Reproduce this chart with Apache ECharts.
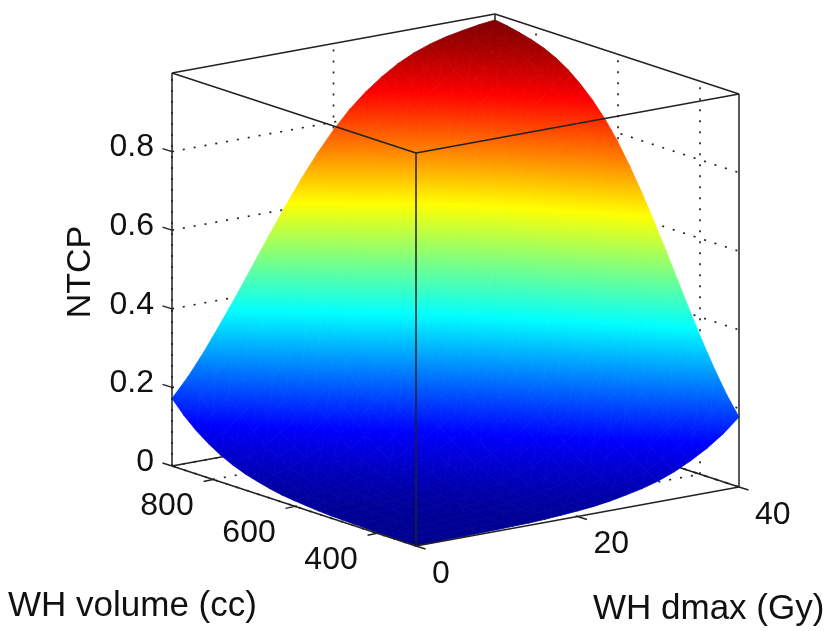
<!DOCTYPE html>
<html>
<head>
<meta charset="utf-8">
<title>NTCP surface</title>
<script src="https://cdn.jsdelivr.net/npm/echarts@6/dist/echarts.min.js"></script>
<style>
  html, body { margin: 0; padding: 0; background: #fff; }
  #chart { width: 827px; height: 631px; }
</style>
</head>
<body>
<div id="chart"></div>
<script>
const dmaxValues = [0, 2, 4, 6, 8, 10, 12, 14, 16, 18, 20, 22, 24, 26, 28, 30, 32, 34, 36, 38, 40];
const volumeValues = [305, 334.75, 364.5, 394.25, 424, 453.75, 483.5, 513.25, 543, 572.75, 602.5,
  632.25, 662, 691.75, 721.5, 751.25, 781, 810.75, 840.5, 870.25, 900];

// one row per volume, one column per dmax
const ntcpRows = [
  [.001, .001, .002, .002, .003, .004, .005, .006, .008, .011, .014, .018, .024, .032, .041, .053, .069, .089, .113, .142, .178],
  [.001, .002, .002, .003, .004, .005, .006, .008, .011, .014, .018, .024, .032, .041, .053, .069, .089, .114, .145, .182, .224],
  [.002, .002, .003, .004, .005, .006, .008, .011, .014, .018, .024, .032, .041, .053, .069, .089, .114, .145, .182, .227, .279],
  [.002, .003, .004, .005, .006, .008, .011, .014, .018, .024, .032, .041, .053, .069, .089, .114, .145, .182, .227, .279, .340],
  [.003, .004, .005, .006, .008, .011, .014, .018, .024, .032, .041, .053, .069, .089, .114, .145, .182, .227, .279, .337, .405],
  [.004, .005, .006, .008, .011, .014, .018, .024, .032, .041, .053, .069, .089, .114, .145, .177, .221, .271, .329, .393, .473],
  [.005, .006, .008, .011, .014, .018, .024, .032, .041, .053, .069, .089, .114, .140, .172, .215, .264, .322, .386, .457, .541],
  [.006, .008, .011, .014, .018, .024, .032, .041, .053, .069, .089, .114, .139, .170, .211, .259, .315, .379, .449, .519, .607],
  [.008, .011, .014, .018, .024, .032, .041, .053, .069, .089, .110, .137, .167, .207, .254, .309, .371, .441, .512, .585, .670],
  [.011, .014, .018, .024, .032, .041, .053, .069, .089, .110, .135, .164, .205, .251, .302, .361, .431, .500, .575, .648, .728],
  [.014, .018, .024, .032, .041, .053, .069, .089, .110, .135, .162, .202, .249, .297, .351, .419, .487, .565, .638, .704, .780],
  [.018, .024, .032, .041, .053, .069, .089, .114, .137, .164, .202, .249, .297, .351, .414, .477, .550, .618, .696, .757, .825],
  [.024, .032, .041, .053, .069, .089, .114, .139, .167, .205, .249, .297, .351, .409, .467, .535, .598, .676, .747, .803, .862],
  [.032, .041, .053, .069, .089, .114, .140, .170, .207, .251, .297, .351, .409, .467, .530, .593, .666, .737, .796, .850, .893],
  [.041, .053, .069, .089, .114, .145, .172, .211, .254, .302, .351, .414, .467, .530, .588, .661, .727, .791, .848, .883, .919],
  [.053, .069, .089, .114, .145, .177, .215, .259, .309, .361, .419, .477, .535, .593, .661, .727, .786, .843, .880, .909, .939],
  [.068, .089, .114, .145, .182, .221, .264, .315, .371, .431, .487, .550, .598, .666, .727, .786, .838, .878, .908, .932, .954],
  [.087, .114, .145, .182, .227, .271, .322, .379, .441, .500, .565, .618, .676, .737, .791, .843, .878, .908, .932, .948, .965],
  [.110, .145, .182, .227, .279, .329, .386, .449, .512, .575, .638, .696, .747, .796, .848, .880, .908, .932, .948, .960, .973],
  [.138, .182, .227, .279, .337, .393, .457, .519, .585, .648, .704, .757, .803, .850, .883, .909, .932, .948, .960, .969, .980],
  [.172, .220, .277, .340, .405, .473, .541, .607, .670, .728, .780, .825, .862, .893, .919, .939, .954, .965, .973, .980, .985],
];

const dmaxTicks = [0, 20, 40];
const volumeTicks = [400, 600, 800];
const ntcpTicks = [0, 0.2, 0.4, 0.6, 0.8];
const ntcpTickLabels = ["0", "0.2", "0.4", "0.6", "0.8"];

const dmaxMin = 0, dmaxMax = 40;
const volumeMin = 305, volumeMax = 900;
const ntcpMax = 1;
const colorTop = 0.985;

const fontFamily = "Liberation Sans, Arial, Helvetica, sans-serif";
const lineColor = "#222222";
const textColor = "#111111";

// MATLAB jet, position in the colour range -> rgb
const jetStops = [
  [0, [0, 0, 143]],
  [0.125, [0, 0, 255]],
  [0.375, [0, 255, 255]],
  [0.625, [255, 255, 0]],
  [0.875, [255, 0, 0]],
  [1, [128, 0, 0]],
];

function jetColor(z) {
  const t = Math.min(1, Math.max(0, z / colorTop));
  for (let k = 1; k < jetStops.length; k++) {
    if (t <= jetStops[k][0]) {
      const a = jetStops[k - 1], b = jetStops[k];
      const f = (t - a[0]) / (b[0] - a[0]);
      const c = a[1].map((v, n) => Math.round(v + (b[1][n] - v) * f));
      return "rgb(" + c.join(",") + ")";
    }
  }
  return "rgb(128,0,0)";
}

// orthographic view: the box corners as the plot shows them
function project(dmax, volume, ntcp) {
  const d = (dmax - dmaxMin) / (dmaxMax - dmaxMin);
  const v = (volume - volumeMin) / (volumeMax - volumeMin);
  return [416 + d * 323 - v * 244, 546 - d * 59 - v * 80 - (ntcp / ntcpMax) * 393];
}

function triangleFill(pts, zs) {
  const [x0, y0] = pts[0], [x1, y1] = pts[1], [x2, y2] = pts[2];
  const det = (x1 - x0) * (y2 - y0) - (x2 - x0) * (y1 - y0);
  const zMin = Math.min(zs[0], zs[1], zs[2]);
  const zMax = Math.max(zs[0], zs[1], zs[2]);
  if (Math.abs(det) < 1e-6 || zMax - zMin < 1e-6) return jetColor((zMin + zMax) / 2);
  const a = ((zs[1] - zs[0]) * (y2 - y0) - (zs[2] - zs[0]) * (y1 - y0)) / det;
  const b = ((zs[2] - zs[0]) * (x1 - x0) - (zs[1] - zs[0]) * (x2 - x0)) / det;
  const n = a * a + b * b;
  const stops = [{ offset: 0, color: jetColor(zMin) }];
  jetStops.forEach((s) => {
    const z = s[0] * colorTop;
    if (z > zMin && z < zMax) {
      stops.push({ offset: (z - zMin) / (zMax - zMin), color: jetColor(z) });
    }
  });
  stops.push({ offset: 1, color: jetColor(zMax) });
  return new echarts.graphic.LinearGradient(
    x0 + ((zMin - zs[0]) * a) / n,
    y0 + ((zMin - zs[0]) * b) / n,
    x0 + ((zMax - zs[0]) * a) / n,
    y0 + ((zMax - zs[0]) * b) / n,
    stops,
    true
  );
}

const cells = [];
for (let i = 0; i < volumeValues.length - 1; i++) {
  for (let j = 0; j < dmaxValues.length - 1; j++) {
    cells.push([j, i]);
  }
}

const dottedSegments = [];
const backSegments = [];
const frontSegments = [];

// walls behind the surface
ntcpTicks.forEach((z) => {
  dottedSegments.push([[dmaxMin, volumeMax, z], [dmaxMax, volumeMax, z]]);
  dottedSegments.push([[dmaxMax, volumeMax, z], [dmaxMax, volumeMin, z]]);
});
dmaxTicks.forEach((d) => {
  dottedSegments.push([[d, volumeMax, 0], [d, volumeMax, ntcpMax]]);
  dottedSegments.push([[d, volumeMin, 0], [d, volumeMax, 0]]);
});
volumeTicks.forEach((v) => {
  dottedSegments.push([[dmaxMax, v, 0], [dmaxMax, v, ntcpMax]]);
  dottedSegments.push([[dmaxMin, v, 0], [dmaxMax, v, 0]]);
});

backSegments.push(
  [[dmaxMin, volumeMax, 0], [dmaxMax, volumeMax, 0]],
  [[dmaxMax, volumeMax, 0], [dmaxMax, volumeMin, 0]],
  [[dmaxMax, volumeMax, 0], [dmaxMax, volumeMax, ntcpMax]],
  [[dmaxMin, volumeMax, ntcpMax], [dmaxMax, volumeMax, ntcpMax]],
  [[dmaxMax, volumeMax, ntcpMax], [dmaxMax, volumeMin, ntcpMax]]
);

frontSegments.push(
  [[dmaxMin, volumeMax, 0], [dmaxMin, volumeMax, ntcpMax]],
  [[dmaxMax, volumeMin, 0], [dmaxMax, volumeMin, ntcpMax]],
  [[dmaxMin, volumeMin, 0], [dmaxMin, volumeMin, ntcpMax]],
  [[dmaxMin, volumeMax, ntcpMax], [dmaxMin, volumeMin, ntcpMax]],
  [[dmaxMin, volumeMin, ntcpMax], [dmaxMax, volumeMin, ntcpMax]],
  [[dmaxMin, volumeMax, 0], [dmaxMin, volumeMin, 0]],
  [[dmaxMin, volumeMin, 0], [dmaxMax, volumeMin, 0]]
);

function segmentSeries(segments, style) {
  return {
    type: "custom",
    silent: true,
    animation: false,
    z: style.order,
    data: segments.map((s, n) => [n]),
    renderItem: (params, api) => {
      const seg = segments[api.value(0)];
      const a = api.coord(project(seg[0][0], seg[0][1], seg[0][2]));
      const b = api.coord(project(seg[1][0], seg[1][1], seg[1][2]));
      return {
        type: "line",
        shape: { x1: a[0], y1: a[1], x2: b[0], y2: b[1] },
        style: { stroke: lineColor, lineWidth: style.width, lineDash: style.dash || null },
      };
    },
  };
}

const tickMarks = [];
const tickTexts = [];
ntcpTicks.forEach((z, n) => {
  tickMarks.push({ at: [dmaxMin, volumeMax, z], dx: -9.5, dy: -3 });
  tickTexts.push({ at: [dmaxMin, volumeMax, z], dx: -18, dy: -4, text: ntcpTickLabels[n], align: "right" });
});
volumeTicks.forEach((v) => {
  tickMarks.push({ at: [dmaxMin, v, 0], dx: -9.5, dy: 2 });
  tickTexts.push({ at: [dmaxMin, v, 0], dx: -46, dy: 27, text: String(v), align: "center" });
});
dmaxTicks.forEach((d) => {
  tickMarks.push({ at: [d, volumeMin, 0], dx: 9.5, dy: 3 });
  tickTexts.push({ at: [d, volumeMin, 0], dx: 16, dy: 28, text: String(d), align: "left" });
});

const chart = echarts.init(document.getElementById("chart"), null, { renderer: "canvas" });

const option = {
  backgroundColor: "#fff",
  animation: false,
  grid: { left: 0, right: 0, top: 0, bottom: 0 },
  xAxis: { type: "value", min: 0, max: 827, show: false },
  yAxis: { type: "value", min: 0, max: 631, inverse: true, show: false },
  tooltip: { show: false },
  series: [
    segmentSeries(dottedSegments, { width: 1.7, dash: [2, 9], order: 1 }),
    segmentSeries(backSegments, { width: 1.5, order: 2 }),
    {
      name: "NTCP",
      type: "custom",
      silent: true,
      animation: false,
      z: 3,
      data: cells,
      renderItem: (params, api) => {
        const j = api.value(0), i = api.value(1);
        const corners = [[i, j], [i, j + 1], [i + 1, j + 1], [i + 1, j]].map(([r, c]) => ({
          p: api.coord(project(dmaxValues[c], volumeValues[r], ntcpRows[r][c])),
          z: ntcpRows[r][c],
        }));
        const tri = (a, b, c) => {
          const fill = triangleFill([a.p, b.p, c.p], [a.z, b.z, c.z]);
          return {
            type: "polygon",
            shape: { points: [a.p, b.p, c.p] },
            style: { fill: fill, stroke: fill, lineWidth: 0.8 },
          };
        };
        return {
          type: "group",
          children: [
            tri(corners[0], corners[1], corners[2]),
            tri(corners[0], corners[2], corners[3]),
          ],
        };
      },
    },
    segmentSeries(frontSegments, { width: 1.5, order: 4 }),
    {
      type: "custom",
      silent: true,
      animation: false,
      z: 4,
      data: tickMarks.map((t, n) => [n]),
      renderItem: (params, api) => {
        const t = tickMarks[api.value(0)];
        const a = api.coord(project(t.at[0], t.at[1], t.at[2]));
        return {
          type: "line",
          shape: { x1: a[0], y1: a[1], x2: a[0] + t.dx, y2: a[1] + t.dy },
          style: { stroke: lineColor, lineWidth: 1.4 },
        };
      },
    },
    {
      type: "custom",
      silent: true,
      animation: false,
      z: 5,
      data: tickTexts.map((t, n) => [n]),
      renderItem: (params, api) => {
        const t = tickTexts[api.value(0)];
        const a = api.coord(project(t.at[0], t.at[1], t.at[2]));
        return {
          type: "text",
          x: a[0] + t.dx,
          y: a[1] + t.dy,
          style: {
            text: t.text,
            fill: textColor,
            font: "32px " + fontFamily,
            textAlign: t.align,
            textVerticalAlign: "middle",
          },
        };
      },
    },
  ],
  graphic: [
    {
      type: "text",
      left: 8,
      top: 589,
      style: { text: "WH volume (cc)", fill: textColor, font: "35px " + fontFamily },
    },
    {
      type: "text",
      left: 593,
      top: 592,
      style: { text: "WH dmax (Gy)", fill: textColor, font: "35px " + fontFamily },
    },
    {
      type: "text",
      x: 81,
      y: 272,
      rotation: Math.PI / 2,
      style: {
        text: "NTCP",
        fill: textColor,
        font: "34px " + fontFamily,
        textAlign: "center",
        textVerticalAlign: "middle",
      },
    },
  ],
};

chart.setOption(option);

window.addEventListener("resize", () => chart.resize());
</script>
</body>
</html>
